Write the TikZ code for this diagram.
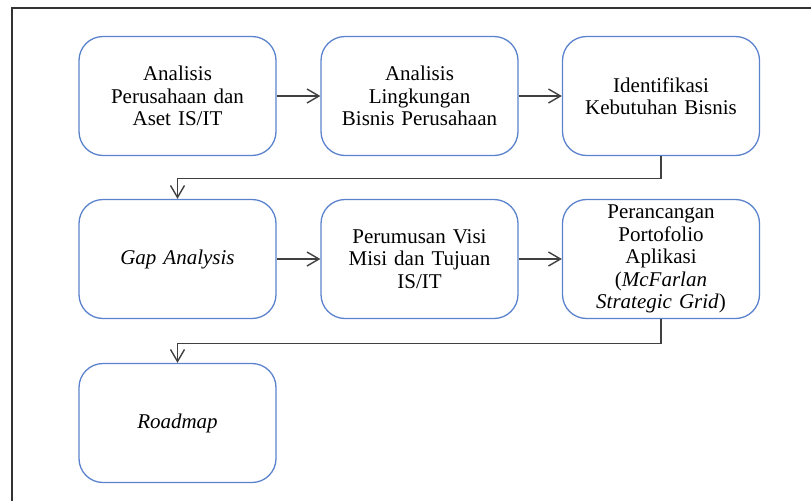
\documentclass[tikz,border=0pt]{standalone}
\usepackage{fontspec}
\setmainfont{Liberation Serif}
\usetikzlibrary{arrows.meta}
\definecolor{boxblue}{RGB}{91,130,205}
\definecolor{linegray}{RGB}{64,64,64}
\tikzset{
  kotak/.style={draw=boxblue,line width=1.3pt,rounded corners=24pt,
    minimum width=197pt,minimum height=119pt,text width=190pt,align=center,
    font=\fontsize{21}{22.5}\selectfont},
  panah/.style={draw=linegray,line width=1.3pt,-{Straight Barb[length=12pt,width=14pt,line width=1.4pt]}}
}
\begin{document}
\begin{tikzpicture}[x=1pt,y=-1pt]
\useasboundingbox (0,0) rectangle (811,501);
\draw[black!80,line width=1.2pt] (12,501) -- (12,8) -- (811,8);
\node[kotak] (b1) at (177.5,96) {Analisis\\Perusahaan dan\\Aset IS/IT};
\node[kotak] (b2) at (419.5,96) {Analisis\\Lingkungan\\Bisnis Perusahaan};
\node[kotak] (b3) at (661,96) {Identifikasi\\Kebutuhan Bisnis};
\node[kotak] (b4) at (177.5,259) {\textit{Gap Analysis}};
\node[kotak] (b5) at (419.5,259) {Perumusan Visi\\Misi dan Tujuan\\IS/IT};
\node[kotak] (b6) at (661,259) {Perancangan\\Portofolio\\Aplikasi\\(\textit{McFarlan}\\\textit{Strategic Grid})};
\node[kotak] (b7) at (177.5,423) {\textit{Roadmap}};
\draw[panah] (b1) -- (b2);
\draw[panah] (b2) -- (b3);
\draw[panah] (b3.south) -- ++(0,22) -| (b4.north);
\draw[panah] (b4) -- (b5);
\draw[panah] (b5) -- (b6);
\draw[panah] (b6.south) -- ++(0,24) -| (b7.north);
\end{tikzpicture}
\end{document}
